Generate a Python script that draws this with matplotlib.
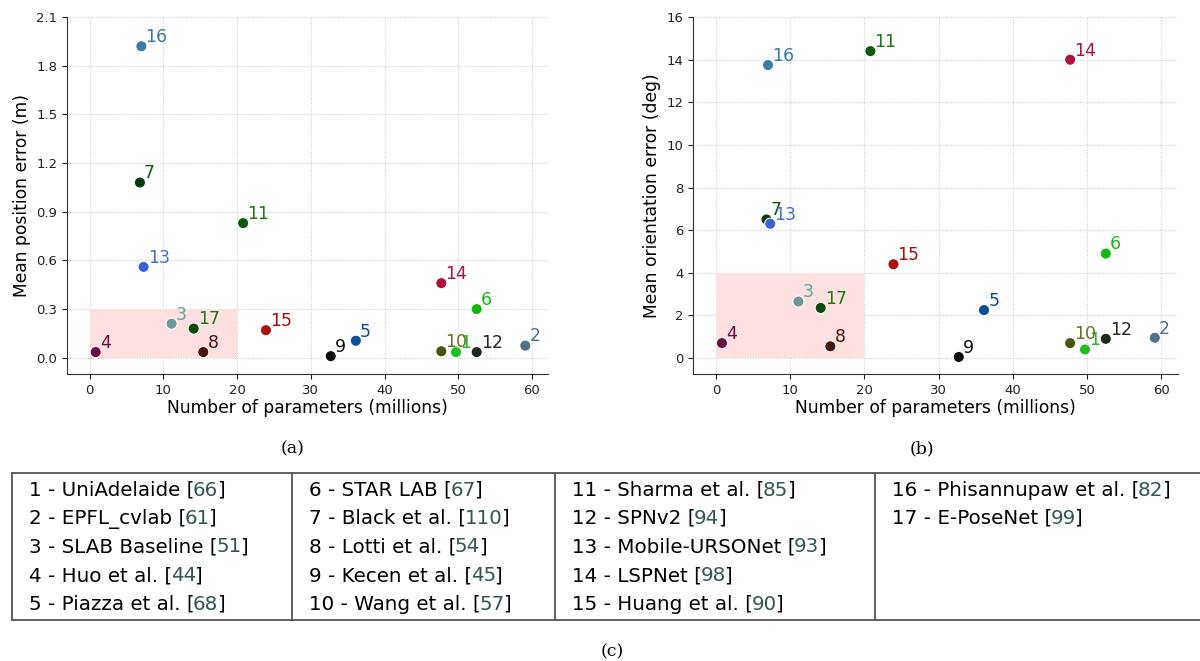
import matplotlib.pyplot as plt
from matplotlib.patches import Rectangle
from matplotlib.transforms import offset_copy

ids = [str(i) for i in range(1, 18)]
params = [49.7, 59.1, 11.1, 0.8, 36.1, 52.5, 6.8, 15.4, 32.7, 47.7,
          20.8, 52.5, 7.3, 47.7, 23.9, 7.0, 14.1]
pos_err = [0.035, 0.075, 0.21, 0.035, 0.105, 0.30, 1.08, 0.035, 0.01, 0.04,
           0.83, 0.035, 0.56, 0.46, 0.17, 1.92, 0.18]
ori_err = [0.4, 0.95, 2.65, 0.7, 2.25, 4.9, 6.5, 0.55, 0.05, 0.7,
           14.4, 0.9, 6.3, 14.0, 4.4, 13.75, 2.35]
colors = ['#1ec21e', '#50708a', '#6d9a96', '#6b0a45', '#0a4f95', '#12b812',
          '#093a09', '#4a1208', '#0d0d0d', '#4a5410', '#0b5a0b', '#1e2a1e',
          '#3a62d0', '#b0103f', '#b00c0c', '#3a7aa5', '#0b4a0b']
label_colors = ['#22bb22', '#50708a', '#5aa5a5', '#6b0a45', '#0a4f95', '#12b812',
                '#0b5a0b', '#4a1208', '#0d0d0d', '#6a7020', '#1a7a1a', '#1e2a1e',
                '#4a6ad8', '#b0103f', '#b00c0c', '#3a7aa5', '#1a7a1a']

names = ['UniAdelaide', 'EPFL_cvlab', 'SLAB Baseline', 'Huo et al.', 'Piazza et al.',
         'STAR LAB', 'Black et al.', 'Lotti et al.', 'Kecen et al.', 'Wang et al.',
         'Sharma et al.', 'SPNv2', 'Mobile-URSONet', 'LSPNet', 'Huang et al.',
         'Phisannupaw et al.', 'E-PoseNet']
refs = ['66', '61', '51', '44', '68', '67', '110', '54', '45', '57',
        '85', '94', '93', '98', '90', '82', '99']

fig = plt.figure(figsize=(12, 6.61), dpi=100)


def scatter_panel(ax, y, ylim, yticks, ylabel, box_h, fmt):
    ax.add_patch(Rectangle((0, 0), 20, box_h, facecolor='#ffe0e0', edgecolor='none', zorder=1))
    ax.scatter(params, y, s=65, c=colors, edgecolors='white', linewidths=0.8, zorder=3)
    for i in range(len(ids)):
        ax.annotate(ids[i], (params[i], y[i]), xytext=(3, 3), textcoords='offset points',
                    fontsize=12.5, color=label_colors[i], zorder=4)
    ax.set_xlim(-3.1, 62.2)
    ax.set_ylim(*ylim)
    ax.set_xticks(range(0, 61, 10))
    ax.set_yticks(yticks)
    ax.set_yticklabels([fmt % v for v in yticks])
    ax.grid(True, linestyle=':', color='#c8c8c8', linewidth=0.7, zorder=0)
    ax.set_axisbelow(True)
    for s in ['top', 'right']:
        ax.spines[s].set_visible(False)
    for s in ['left', 'bottom']:
        ax.spines[s].set_color('#333333')
    ax.tick_params(labelsize=9.5, colors='#222222', length=3.5)
    ax.set_xlabel('Number of parameters (millions)', fontsize=12.3, labelpad=2)
    ax.set_ylabel(ylabel, fontsize=12.3)


ax1 = fig.add_axes([0.0558, 0.4342, 0.401, 0.540])
scatter_panel(ax1, pos_err, (-0.1, 2.1), [0.3 * k for k in range(8)],
              'Mean position error (m)', 0.3, '%.1f')
ax2 = fig.add_axes([0.5775, 0.4342, 0.404, 0.540])
scatter_panel(ax2, ori_err, (-0.75, 16), list(range(0, 17, 2)),
              'Mean orientation error (deg)', 4, '%d')

cap = dict(family='DejaVu Serif', fontsize=12.5, ha='center', va='center')
fig.text(293 / 1200, 1 - 449 / 661, '(a)', **cap)
fig.text(922 / 1200, 1 - 449 / 661, '(b)', **cap)
fig.text(612 / 1200, 1 - 652 / 661, '(c)', **cap)

# table of methods
tab = fig.add_axes([0, 0, 1, 1], facecolor='none')
tab.set_xlim(0, 1200)
tab.set_ylim(661, 0)
tab.axis('off')
lc = '#555555'
tab.plot([12, 1200], [473, 473], color=lc, lw=1.3)
tab.plot([12, 1200], [620, 620], color=lc, lw=1.3)
for xs in [12, 292, 555, 875]:
    tab.plot([xs, xs], [473, 620], color=lc, lw=1.3)

renderer = fig.canvas.get_renderer()
col_x = [29, 309, 572, 892]
for i in range(len(ids)):
    c, r = divmod(i, 5)
    pieces = [(ids[i] + ' - ' + names[i] + ' [', 'black'), (refs[i], '#355555'), (']', 'black')]
    dx = 0
    for s, col in pieces:
        t = tab.text(col_x[c], 488 + 28.5 * r, s, fontsize=14.3, va='center_baseline',
                     ha='left', color=col,
                     transform=offset_copy(tab.transData, fig=fig, x=dx, units='dots'))
        dx += t.get_window_extent(renderer).width - 1.5

fig.savefig('out.png', dpi=100)
